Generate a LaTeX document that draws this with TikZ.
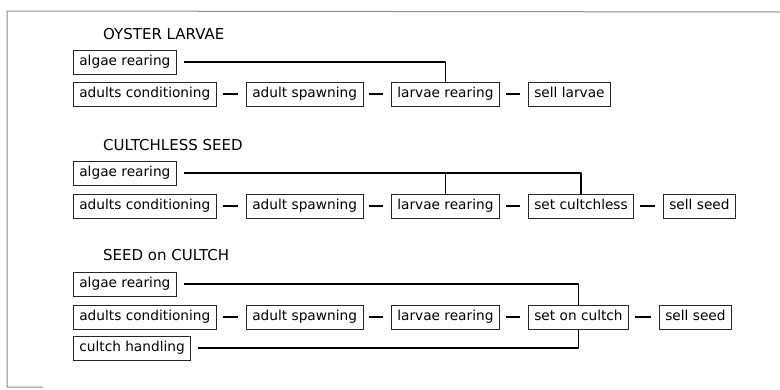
\documentclass[tikz,border=0pt]{standalone}
\usepackage{fontspec}
\setmainfont{DejaVu Sans}
\tikzset{
  stage/.style={draw=black!85, line width=0.7pt, anchor=west, minimum height=24pt,
    inner xsep=6pt, inner ysep=0pt, text height=9.5pt, text depth=3pt,
    font=\fontsize{13.7}{16}\selectfont},
  heading/.style={anchor=base west, inner sep=0pt, font=\fontsize{15}{18}\selectfont},
  link/.style={line width=1.3pt, shorten <=6pt, shorten >=8pt},
  feed/.style={line width=1.3pt, line join=round},
}
\begin{document}
\begin{tikzpicture}[x=1pt,y=-1pt]
\useasboundingbox (0,0) rectangle (780,389);
\draw[black!45, line width=1pt] (43,387) -- (7,387) -- (7,11) -- (780,12);

% oyster larvae
\node[heading] (t1) at (103,39) {OYSTER LARVAE};
\node[stage] (oalg) at (73,62) {algae rearing};
\node[stage] (oadu) at (73,94) {adults conditioning};
\node[stage] (ospa) at (246,94) {adult spawning};
\node[stage] (olar) at (391,94) {larvae rearing};
\node[stage] (osel) at (528,94) {sell larvae};
\draw[link] (oadu.east) -- (ospa.west);
\draw[link] (ospa.east) -- (olar.west);
\draw[link] (olar.east) -- (osel.west);
\draw[feed, shorten <=7pt] (oalg.east) -| (olar.north);

% cultchless seed
\node[heading] (t2) at (103,150) {CULTCHLESS SEED};
\node[stage] (calg) at (73,173) {algae rearing};
\node[stage] (cadu) at (73,206) {adults conditioning};
\node[stage] (cspa) at (246,206) {adult spawning};
\node[stage] (clar) at (391,206) {larvae rearing};
\node[stage] (cset) at (528,206) {set cultchless};
\node[stage] (csel) at (663,206) {sell seed};
\draw[link] (cadu.east) -- (cspa.west);
\draw[link] (cspa.east) -- (clar.west);
\draw[link] (clar.east) -- (cset.west);
\draw[link] (cset.east) -- (csel.west);
\draw[feed, shorten <=7pt] (calg.east) -| (cset.north);
\draw[feed] (clar.north) -- (clar.north |- calg.east);

% seed on cultch
\node[heading] (t3) at (103,260) {SEED on CULTCH};
\node[stage] (salg) at (73,284) {algae rearing};
\node[stage] (sadu) at (73,317) {adults conditioning};
\node[stage] (sspa) at (246,317) {adult spawning};
\node[stage] (slar) at (391,317) {larvae rearing};
\node[stage] (sset) at (528,317) {set on cultch};
\node[stage] (ssel) at (659,317) {sell seed};
\node[stage] (scul) at (73,348) {cultch handling};
\draw[link] (sadu.east) -- (sspa.west);
\draw[link] (sspa.east) -- (slar.west);
\draw[link] (slar.east) -- (sset.west);
\draw[link] (sset.east) -- (ssel.west);
\draw[feed, shorten <=7pt] (salg.east) -| (sset.north);
\draw[feed, shorten <=7pt] (scul.east) -| (sset.south);
\end{tikzpicture}
\end{document}
